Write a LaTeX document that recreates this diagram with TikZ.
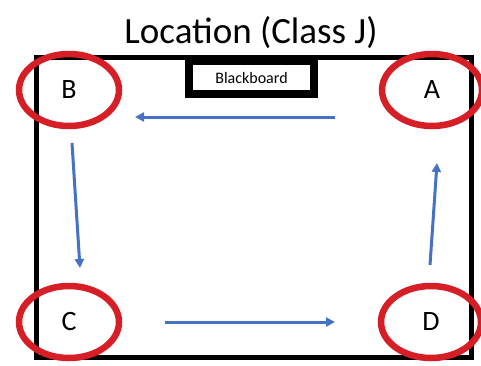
\documentclass[tikz,border=0pt]{standalone}
\usepackage{fontspec}
\setmainfont{Carlito}
\usepackage{xcolor}
\usepackage{tikz}
\usetikzlibrary{shapes.geometric,arrows.meta,positioning,calc}
\definecolor{officeblue}{RGB}{68, 114, 196}
\definecolor{spotred}{RGB}{214, 30, 38}

\begin{document}
\begin{tikzpicture}[x=1pt, y=-1pt,
    spot/.style={draw=spotred, ellipse, line width=6.5pt, minimum width=100pt, minimum height=72pt, font=\fontsize{28}{32}\selectfont},
    flow/.style={-{Triangle[length=9pt,width=9pt]}, line width=3pt, officeblue}]
    \useasboundingbox (0,0) rectangle (481,365);

    % Room and title
    \draw[line width=5pt] (36,57) rectangle (471,357);
    \node[font=\fontsize{37}{42}\selectfont] (TITLE) at (251,33) {Location (Class J)};
    \node[draw, fill=white, line width=8pt, minimum width=125pt, minimum height=33pt, inner sep=0pt, font=\fontsize{16}{18}\selectfont] (BOARD) at (251.5,77.5) {Blackboard};

    % Corner spots
    \node[spot] (B) at (69,90) {B};
    \node[spot] (A) at (432,90) {A};
    \node[spot] (C) at (69,322) {C};
    \node[spot] (D) at (431,322) {D};

    % Walking order
    \draw[flow] ([xshift=-97pt,yshift=-27pt]A.center) -- ([xshift=66pt,yshift=-27pt]B.center);
    \draw[flow] ([xshift=3pt,yshift=-53pt]B.center) -- ([xshift=11pt,yshift=54pt]C.center);
    \draw[flow] ([xshift=96pt]C.center) -- ([xshift=-96pt]D.center);
    \draw[flow] ([xshift=-1pt,yshift=57pt]D.center) -- ([xshift=5pt,yshift=-73pt]A.center);
\end{tikzpicture}
\end{document}
